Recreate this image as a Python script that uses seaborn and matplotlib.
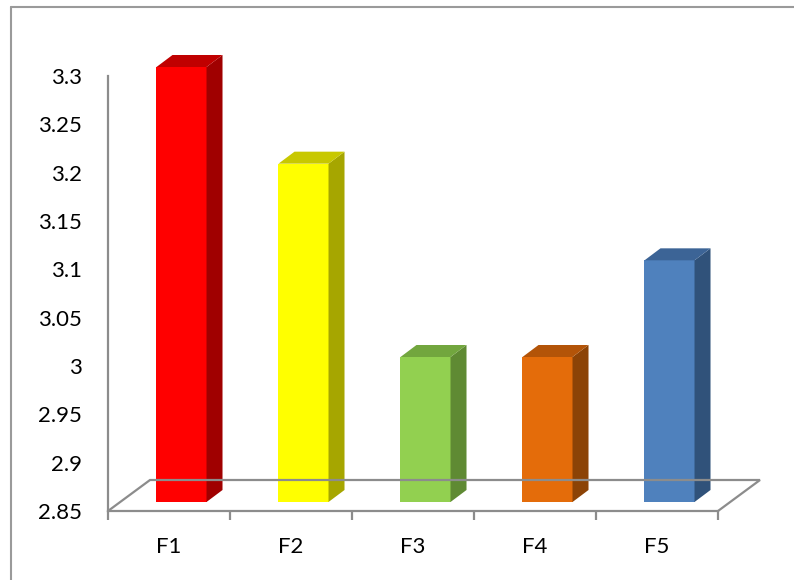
import matplotlib
matplotlib.use("Agg")
import matplotlib.pyplot as plt
from matplotlib.patches import Polygon
from matplotlib.lines import Line2D
from matplotlib.transforms import IdentityTransform
import seaborn as sns

# ---- data ----
categories = ["F1", "F2", "F3", "F4", "F5"]
values = [3.3, 3.2, 3.0, 3.0, 3.1]
y_ticks = [2.85, 2.9, 2.95, 3.0, 3.05, 3.1, 3.15, 3.2, 3.25, 3.3]
y_tick_labels = ["2.85", "2.9", "2.95", "3", "3.05", "3.1", "3.15", "3.2", "3.25", "3.3"]

front_colors = ["#FF0000", "#FFFF00", "#92D050", "#E46C0A", "#4F81BD"]
side_colors = ["#A00000", "#A6A600", "#5F8A33", "#8C4306", "#30527A"]
top_colors = ["#C00000", "#C8C800", "#72A63E", "#B35408", "#3C6496"]

sns.set_style("white")
plt.rcParams["font.family"] = ["Lato", "DejaVu Sans"]

W, H = 794, 580
fig = plt.figure(figsize=(W / 100, H / 100), dpi=100)
gray = "#8C8C8C"

# main axes (front plane of the floor)
L, B, AW, AH = 108 / W, 69 / H, 610 / W, 435 / H
ax = fig.add_axes([L, B, AW, AH])
ax.set_xlim(-0.5, 4.5)
ax.set_ylim(y_ticks[0], y_ticks[-1])
for s in ["top", "right"]:
    ax.spines[s].set_visible(False)
for s in ["left", "bottom"]:
    ax.spines[s].set_color(gray)
    ax.spines[s].set_linewidth(1.6)
ax.set_yticks(y_ticks, labels=y_tick_labels)
ax.set_xticks(range(len(categories)), labels=categories)
ax.set_xticks([i - 0.5 for i in range(len(categories) + 1)], minor=True)
ax.tick_params(axis="y", which="major", length=6, width=1.6, color=gray,
               pad=12.5, labelsize=16, labelcolor="black")
ax.tick_params(axis="x", which="major", length=0, pad=18.5, labelsize=16,
               labelcolor="black")
ax.tick_params(axis="x", which="minor", length=6.5, width=1.6, color=gray,
               direction="out", bottom=True)
ax.patch.set_alpha(0)

# floor parallelogram (back edges)
fdx, fdy = 42, 31
fl = ax.transData.transform((-0.5, y_ticks[0]))
fr = ax.transData.transform((4.5, y_ticks[0]))
bl = (fl[0] + fdx, fl[1] + fdy)
br = (fr[0] + fdx, fr[1] + fdy)
floor = Line2D([fl[0], bl[0], br[0], fr[0]], [fl[1], bl[1], br[1], fr[1]],
               transform=IdentityTransform(), color=gray, lw=1.6,
               solid_joinstyle="miter")
fig.add_artist(floor)

# bars in an overlay axes shifted into the depth of the floor
ax2 = fig.add_axes([L + 12.5 / W, B + 9 / H, AW, AH])
sns.barplot(x=categories, y=values, hue=categories, palette=front_colors,
            width=0.41, saturation=1, legend=False, linewidth=0, ax=ax2)
ax2.set_xlim(-0.5, 4.5)
ax2.set_ylim(y_ticks[0], y_ticks[-1])
ax2.set_axis_off()

bdx, bdy = 16, 12
bars = sorted(ax2.patches, key=lambda p: p.get_x())
for i, p in enumerate(bars):
    x0 = p.get_x()
    x1 = x0 + p.get_width()
    yt = p.get_y() + p.get_height()
    yb = y_ticks[0]
    (ax0, ayb), (ax1, ayt) = ax2.transData.transform([(x0, yb), (x1, yt)])
    side = Polygon([(ax1, ayb), (ax1 + bdx, ayb + bdy), (ax1 + bdx, ayt + bdy), (ax1, ayt)],
                   closed=True, transform=IdentityTransform(),
                   facecolor=side_colors[i], edgecolor="none")
    top = Polygon([(ax0, ayt), (ax1, ayt), (ax1 + bdx, ayt + bdy), (ax0 + bdx, ayt + bdy)],
                  closed=True, transform=IdentityTransform(),
                  facecolor=top_colors[i], edgecolor="none")
    fig.add_artist(side)
    fig.add_artist(top)

# chart frame (left and top edges)
fig.add_artist(Line2D([11 / W, 1], [1 - 7 / H, 1 - 7 / H], transform=fig.transFigure,
                      color="#9A9A9A", lw=1.5))
fig.add_artist(Line2D([11 / W, 11 / W], [0, 1 - 7 / H], transform=fig.transFigure,
                      color="#9A9A9A", lw=1.5))

fig.savefig("out.png", dpi=100)
